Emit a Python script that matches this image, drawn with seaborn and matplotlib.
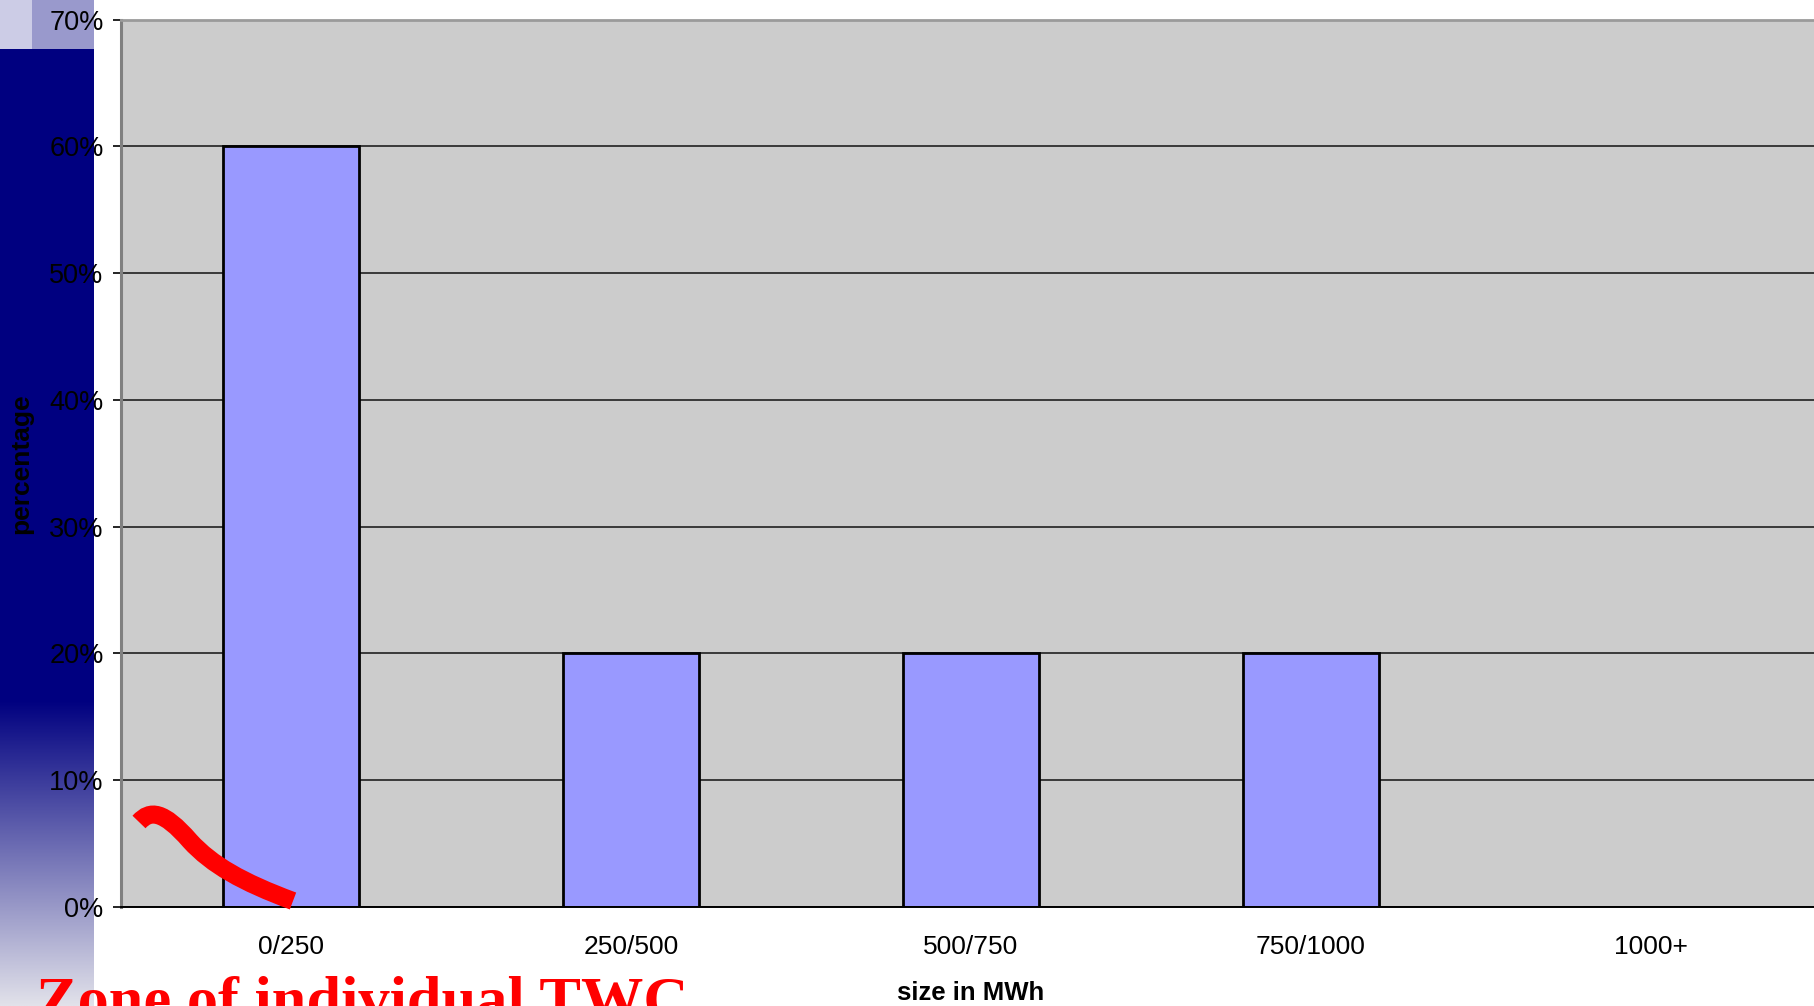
import numpy as np
import matplotlib
matplotlib.use("Agg")
import matplotlib.pyplot as plt
from matplotlib.patches import Rectangle, PathPatch
from matplotlib.path import Path
from matplotlib.ticker import FuncFormatter, FixedLocator
import seaborn as sns

# Data
categories = ["0/250", "250/500", "500/750", "750/1000", "1000+"]
percentages = [60, 20, 20, 20, 0]
y_ticks = [0, 10, 20, 30, 40, 50, 60, 70]

sns.set_theme(style="white")
plt.rcParams["font.family"] = ["Liberation Sans", "DejaVu Sans"]

W, H = 1814, 1006
fig = plt.figure(figsize=(W / 100, H / 100), dpi=100)
fig.patch.set_facecolor("white")

# Slide background: side band with a fading gradient
bg = fig.add_axes([0, 0, 1, 1], zorder=0)
bg.set_xlim(0, W)
bg.set_ylim(H, 0)
bg.axis("off")
bg.add_patch(Rectangle((0, 0), 32, 49, color="#CCCCE6", lw=0))
bg.add_patch(Rectangle((32, 0), 62, 49, color="#9999CC", lw=0))
bg.add_patch(Rectangle((0, 49), 94, 652, color="#000080", lw=0))
top_c = np.array([0x00, 0x00, 0x80]) / 255
bot_c = np.array([0xE2, 0xE2, 0xEA]) / 255
t = np.linspace(0, 1, 300)[:, None]
grad = (1 - t) * top_c + t * bot_c
grad = np.repeat(grad[:, None, :], 2, axis=1)
bg.imshow(grad, extent=(0, 94, H, 700), aspect="auto", interpolation="bilinear")

# Main chart
left, right, top, bottom = 121, 1821, 19.5, 907
ax = fig.add_axes([left / W, (H - bottom) / H, (right - left) / W, (bottom - top) / H], zorder=1)
ax.set_facecolor("#CCCCCC")

sns.barplot(x=categories, y=percentages, color="#9999FF", edgecolor="black",
            linewidth=2, width=0.4, saturation=1, ax=ax)

ax.set_xlim(-0.5, len(categories) - 0.5)
ax.set_ylim(0, 70)
ax.set_yticks(y_ticks)
ax.yaxis.set_major_formatter(FuncFormatter(lambda v, p: f"{v:.0f}%"))
ax.set_axisbelow(True)
ax.yaxis.grid(True, color="#111111", linewidth=1.1)
ax.xaxis.grid(False)

ax.xaxis.set_minor_locator(FixedLocator(np.arange(-0.5, len(categories), 1.0)))
ax.tick_params(axis="x", which="major", length=0, pad=20, labelsize=19, labelcolor="black")
ax.tick_params(axis="x", which="minor", length=6, width=1.6, color="#808080", direction="out")
ax.tick_params(axis="y", which="major", length=6, width=1.2, color="black", pad=6.5,
               labelsize=19.5, labelcolor="black", left=True)

for s in ax.spines.values():
    s.set_visible(True)
ax.spines["left"].set_color("#808080")
ax.spines["left"].set_linewidth(2.2)
ax.spines["top"].set_color("#9A9A9A")
ax.spines["top"].set_linewidth(2.0)
ax.spines["bottom"].set_color("black")
ax.spines["bottom"].set_linewidth(1.4)
ax.spines["right"].set_visible(False)

ax.set_xlabel("size in MWh", fontsize=18.5, fontweight="bold", color="black")
ax.xaxis.set_label_coords(0.5, -0.083)
ax.xaxis.label.set_va("top")
ax.set_ylabel("percentage", fontsize=19, fontweight="bold", color="black")
ax.yaxis.set_label_coords(-0.0515, 0.5)

# Overlay: hand-drawn marker stroke and caption
ov = fig.add_axes([0, 0, 1, 1], zorder=3)
ov.set_xlim(0, W)
ov.set_ylim(H, 0)
ov.axis("off")
ov.patch.set_alpha(0)
verts = [(139, 822), (150, 810), (163, 810), (190, 841),
         (212, 865), (242, 882), (293, 901)]
codes = [Path.MOVETO, Path.CURVE4, Path.CURVE4, Path.CURVE4,
         Path.CURVE4, Path.CURVE4, Path.CURVE4]
ov.add_patch(PathPatch(Path(verts, codes), facecolor="none", edgecolor="#FF0000",
                       lw=13, capstyle="butt"))
ov.text(36, 976, "Zone of individual TWC", color="#FF0000", fontsize=44.9,
        fontweight="bold", family=["Liberation Serif", "DejaVu Serif"],
        ha="left", va="top")

fig.savefig("out.png", dpi=100)
